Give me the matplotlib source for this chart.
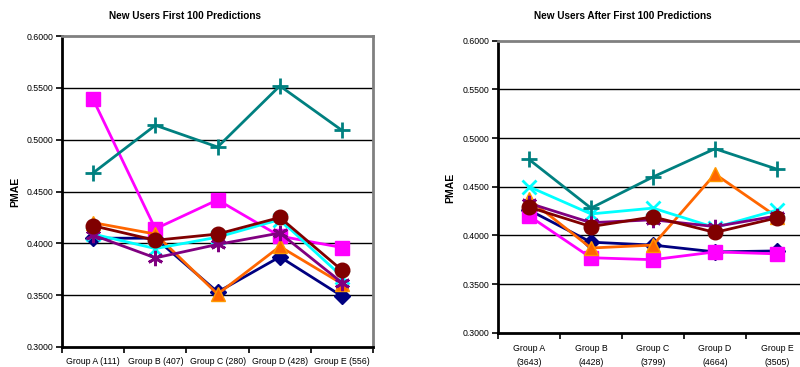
import matplotlib.pyplot as plt
from matplotlib import ticker

plt.rcParams['font.family'] = ['Liberation Sans', 'DejaVu Sans']

# category labels
groups_first = ['Group A (111)', 'Group B (407)', 'Group C (280)', 'Group D (428)', 'Group E (556)']
groups_after = ['Group A\n(3643)', 'Group B\n(4428)', 'Group C\n(3799)', 'Group D\n(4664)', 'Group E\n(3505)']

# New users, first 100 predictions
first_navy = [0.405, 0.405, 0.353, 0.387, 0.349]
first_magenta = [0.539, 0.414, 0.442, 0.407, 0.396]
first_orange = [0.420, 0.409, 0.351, 0.397, 0.361]
first_cyan = [0.409, 0.395, 0.406, 0.423, 0.368]
first_purple = [0.408, 0.386, 0.399, 0.410, 0.362]
first_maroon = [0.417, 0.403, 0.409, 0.425, 0.374]
first_teal = [0.468, 0.514, 0.493, 0.552, 0.509]

# New users, after first 100 predictions
after_navy = [0.426, 0.393, 0.390, 0.383, 0.384]
after_magenta = [0.420, 0.377, 0.375, 0.383, 0.381]
after_orange = [0.437, 0.387, 0.390, 0.463, 0.419]
after_cyan = [0.450, 0.422, 0.428, 0.408, 0.426]
after_purple = [0.433, 0.413, 0.416, 0.409, 0.420]
after_maroon = [0.429, 0.409, 0.419, 0.403, 0.418]
after_teal = [0.478, 0.428, 0.460, 0.489, 0.468]

styles = [
    dict(color='#000080', marker='D', ms=8),
    dict(color='#FF00FF', marker='s', ms=10.5),
    dict(color='#FF6600', marker='^', ms=10.5, mec='#FF9900'),
    dict(color='#00FFFF', marker='x', ms=9.5, mew=2),
    dict(color='#800080', marker=(6, 2, 0), ms=11, mew=2),
    dict(color='#800000', marker='o', ms=10.5),
    dict(color='#008080', marker='+', ms=11, mew=2),
]


def draw(ax, series, labels, pad):
    x = list(range(len(labels)))
    for ys, st in zip(series, styles):
        ax.plot(x, ys, lw=2, clip_on=False, zorder=3, **st)
    ax.set_xlim(-0.5, len(labels) - 0.5)
    ax.set_ylim(0.3, 0.6)
    ax.yaxis.set_major_locator(ticker.MultipleLocator(0.05))
    ax.yaxis.set_major_formatter(ticker.FormatStrFormatter('%.4f'))
    for v in [0.35, 0.40, 0.45, 0.50, 0.55]:
        ax.axhline(v, color='black', lw=1, zorder=1)
    ax.set_xticks([i - 0.5 for i in range(len(labels) + 1)])
    ax.set_xticklabels([])
    ax.set_xticks(x, minor=True)
    ax.set_xticklabels(labels, minor=True)
    ax.tick_params(axis='x', which='major', length=4, width=1.2, direction='out')
    ax.tick_params(axis='x', which='minor', length=0, labelsize=6.3, pad=pad)
    ax.tick_params(axis='y', length=4, width=1.2, labelsize=6.3, pad=2)
    ax.spines['left'].set_linewidth(2)
    ax.spines['bottom'].set_linewidth(2)
    ax.spines['top'].set_color('#808080')
    ax.spines['top'].set_linewidth(2)
    ax.spines['right'].set_color('#808080')
    ax.spines['right'].set_linewidth(2)


fig = plt.figure(figsize=(8, 3.67), dpi=100)

ax1 = fig.add_axes([0.0775, 0.0545, 0.389, 0.847])
draw(ax1, [first_navy, first_magenta, first_orange, first_cyan,
           first_purple, first_maroon, first_teal], groups_first, 7)

ax2 = fig.add_axes([0.6225, 0.0935, 0.3875, 0.7956])
draw(ax2, [after_navy, after_magenta, after_orange, after_cyan,
           after_purple, after_maroon, after_teal], groups_after, 8)
for lab in ax2.get_xticklabels(minor=True):
    lab.set_linespacing(1.7)

fig.text(185 / 800, 1 - 16 / 367, 'New Users First 100 Predictions',
         ha='center', va='center', fontsize=7.2, fontweight='bold')
fig.text(623 / 800, 1 - 16 / 367, 'New Users After First 100 Predictions',
         ha='center', va='center', fontsize=7.2, fontweight='bold')
fig.text(15 / 800, 1 - 192 / 367, 'PMAE', rotation=90,
         ha='center', va='center', fontsize=7.5, fontweight='bold')
fig.text(450 / 800, 1 - 188 / 367, 'PMAE', rotation=90,
         ha='center', va='center', fontsize=7.5, fontweight='bold')

fig.savefig('out.png', dpi=100, facecolor='white')
